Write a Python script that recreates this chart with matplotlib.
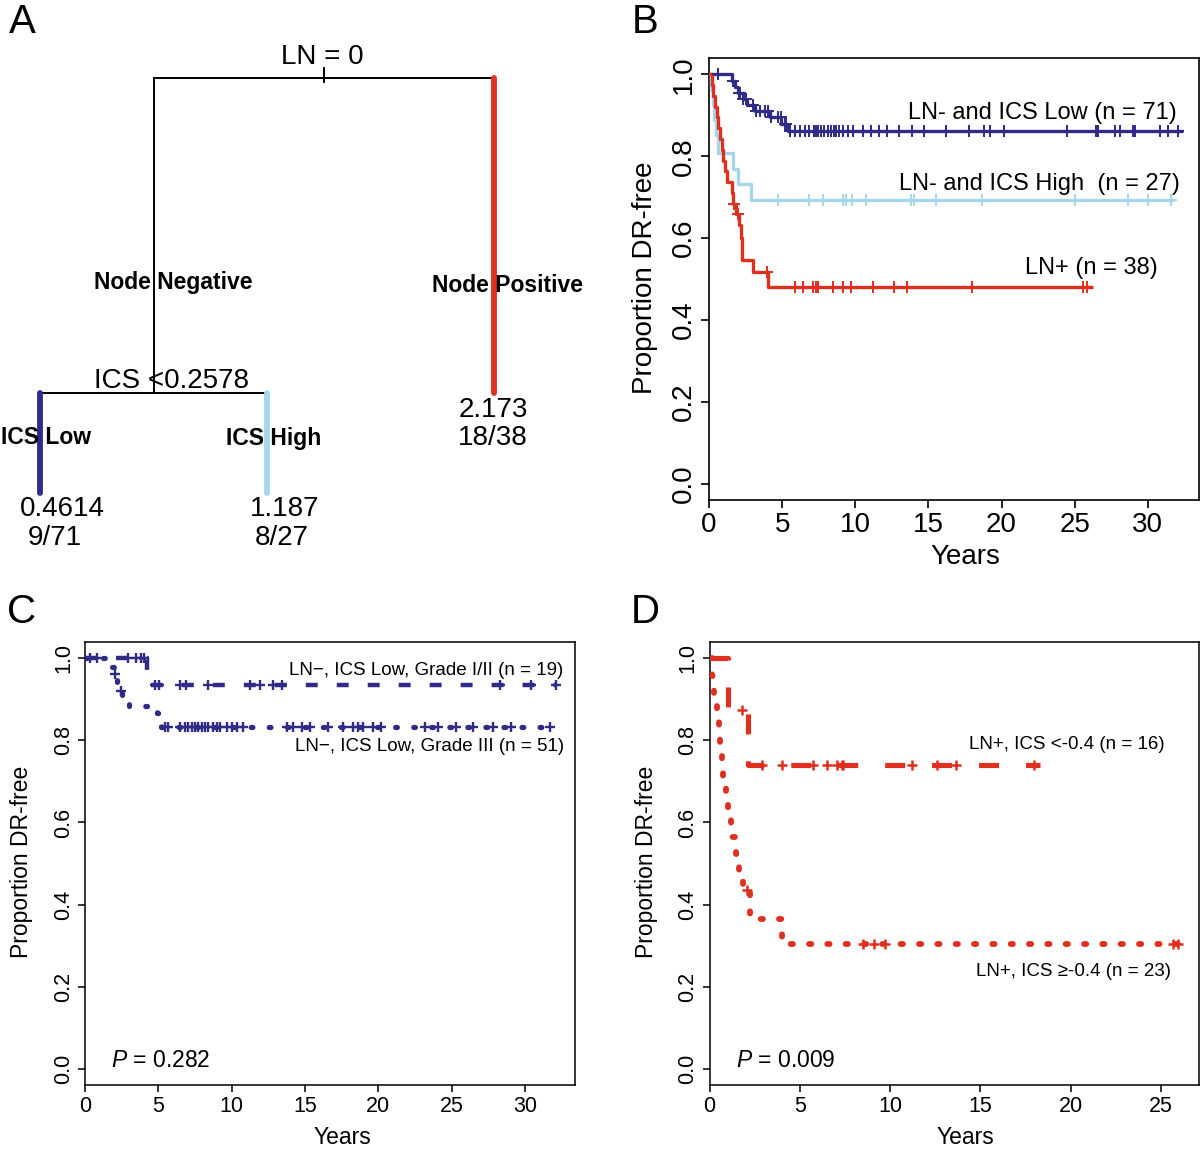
import numpy as np
import matplotlib
matplotlib.use("Agg")
import matplotlib.pyplot as plt

plt.rcParams['font.family'] = ['Liberation Sans', 'DejaVu Sans']
plt.rcParams['mathtext.fontset'] = 'custom'
plt.rcParams['mathtext.it'] = 'Liberation Sans:italic'
plt.rcParams['mathtext.rm'] = 'Liberation Sans'
plt.rcParams['lines.scale_dashes'] = False

# ---------------- data ----------------
# Panel A: recursive partitioning tree
tree_split_labels = ["LN = 0", "ICS <0.2578"]
tree_branch_labels = ["Node Negative", "Node Positive", "ICS Low", "ICS High"]
leaf_hazard = ["0.4614", "1.187", "2.173"]
leaf_events = ["9/71", "8/27", "18/38"]

# Panel B: KM curves (event times, survival after each event, censor times, end time)
b_low_t = [1.54, 1.77, 2.0, 2.3, 2.6, 3.15, 4.15, 4.95, 5.4]
b_low_s = [0.985, 0.970, 0.955, 0.940, 0.925, 0.911, 0.897, 0.879, 0.861]
b_low_cens = [0.64, 1.66, 2.05, 2.11, 2.34, 2.56, 3.02, 3.24, 3.47, 3.81, 4.04, 4.27, 4.72,
              4.94, 5.17, 5.28, 5.51, 5.85, 6.19, 6.53, 6.87, 7.21, 7.33, 7.44, 7.67, 7.89,
              8.12, 8.35, 8.57, 8.69, 8.91, 9.14, 9.48, 9.82, 10.5, 11.07, 11.63, 12.2, 13.0,
              13.9, 14.7, 16.17, 17.76, 18.78, 19.23, 20.14, 24.45, 26.49, 26.6, 27.73,
              28.07, 28.98, 29.1, 30.8, 31.36, 32.04]
b_low_end = 32.4

b_high_t = [0.15, 0.25, 0.35, 0.45, 0.6, 1.66, 2.0, 2.9]
b_high_s = [0.963, 0.926, 0.889, 0.852, 0.807, 0.768, 0.731, 0.694]
b_high_cens = [4.72, 6.87, 7.78, 9.14, 9.37, 9.77, 10.73, 13.79, 14.01, 15.49, 18.66,
               25.01, 28.64, 30.0, 31.59]
b_high_end = 31.8

b_pos_t = [0.18, 0.29, 0.41, 0.52, 0.64, 0.75, 0.86, 0.98, 1.09, 1.25, 1.54, 1.66, 1.88,
           2.06, 2.18, 2.28, 3.02, 4.04]
b_pos_s = [0.974, 0.947, 0.921, 0.895, 0.868, 0.842, 0.816, 0.789, 0.763, 0.737, 0.711,
           0.684, 0.658, 0.632, 0.600, 0.546, 0.518, 0.481]
b_pos_cens = [1.72, 1.95, 3.95, 5.85, 6.42, 7.1, 7.33, 7.44, 8.46, 9.14, 9.71, 11.18,
              12.66, 13.56, 17.98, 25.58, 25.81]
b_pos_end = 26.26

# Panel C
c_g12_t = [4.2]
c_g12_s = [0.936]
c_g12_cens = [0.34, 2.95, 3.5, 3.8, 4.0, 4.77, 5.04, 6.47, 6.88, 8.40, 11.24, 11.92,
              12.83, 13.4, 28.32, 30.43, 32.13]
c_g12_end = 32.13

c_g3_t = [1.7, 1.95, 2.15, 2.35, 2.55, 3.0, 4.9, 5.15]
c_g3_s = [0.980, 0.961, 0.941, 0.921, 0.901, 0.885, 0.866, 0.833]
c_g3_cens = [0.8, 2.04, 2.45, 5.45, 5.68, 6.47, 6.81, 7.04, 7.27, 7.49, 7.72, 7.95, 8.17,
             8.4, 8.74, 8.97, 9.2, 9.65, 9.99, 10.33, 10.79, 13.74, 14.19, 14.76, 15.33,
             16.58, 17.6, 18.28, 18.62, 18.96, 19.64, 20.21, 23.16, 24.07, 25.32, 26.45,
             27.82, 29.07, 31.68]
c_g3_end = 31.68

# Panel D
d_lo_t = [1.05, 2.15]
d_lo_s = [0.875, 0.741]
d_lo_cens = [1.78, 2.89, 4.0, 5.75, 6.49, 7.04, 7.32, 7.41, 11.19, 12.62, 13.65, 17.98]
d_lo_end = 18.3

d_hi_t = [0.12, 0.25, 0.4, 0.53, 0.6, 0.68, 0.77, 0.9, 1.05, 1.2, 1.45, 1.62, 1.85,
          2.25, 4.0]
d_hi_s = [0.957, 0.913, 0.870, 0.826, 0.783, 0.739, 0.696, 0.652, 0.609, 0.565, 0.522,
          0.478, 0.435, 0.365, 0.304]
d_hi_cens = [2.05, 8.52, 9.13, 9.7, 25.68, 25.96]
d_hi_end = 26.24

y_ticks = [0.0, 0.2, 0.4, 0.6, 0.8, 1.0]
b_x_ticks = [0, 5, 10, 15, 20, 25, 30]
c_x_ticks = [0, 5, 10, 15, 20, 25, 30]
d_x_ticks = [0, 5, 10, 15, 20, 25]

# ---------------- style ----------------
NAVY = '#2f2b87'
LIGHT = '#a6d6ec'
RED = '#de2f1f'

W, H = 1200, 1151
fig = plt.figure(figsize=(W / 100, H / 100), dpi=100)


def fx(px):
    return px / W


def fy(py):
    return 1 - py / H


def km(ax, t, s, cens, end, color, lw, ms, mew, ls='-', capstyle='butt'):
    xs = np.concatenate([[0.0], np.asarray(t, float), [end]])
    ys = np.concatenate([[1.0], np.asarray(s, float), [s[-1]]])
    ax.plot(xs, ys, drawstyle='steps-post', color=color, lw=lw, linestyle=ls,
            solid_capstyle='butt', dash_capstyle=capstyle, zorder=3)
    ct = np.asarray(cens, float)
    idx = np.searchsorted(np.asarray(t, float), ct, side='right')
    cs = np.concatenate([[1.0], np.asarray(s, float)])[idx]
    ax.plot(ct, cs, linestyle='none', marker='+', ms=ms, mew=mew, color=color, zorder=4)


def style_axes(ax, xticks, xlim, tick_fs, tick_len, lw):
    ax.set_xlim(*xlim)
    ax.set_ylim(-0.04, 1.04)
    ax.set_xticks(xticks)
    ax.set_yticks(y_ticks)
    ax.set_yticklabels([f"{v:.1f}" for v in y_ticks], rotation=90, va='center')
    ax.tick_params(direction='out', length=tick_len, width=lw, labelsize=tick_fs, pad=3)
    for sp in ax.spines.values():
        sp.set_linewidth(lw)


# ---------------- Panel A: tree ----------------
axA = fig.add_axes([0, fy(580), fx(600), 580 / H])
axA.set_xlim(0, 600)
axA.set_ylim(580, 0)
axA.axis('off')
# layout (pixel positions of tree nodes)
root = dict(x=324, y=78)
node_l = dict(x=154, y=393)
leaf_x = [40, 267, 494]
leaf_bottom = [493, 493, 393]
thin = 1.4
thick = 4.2
axA.plot([node_l['x'], leaf_x[2]], [root['y'], root['y']], color='black', lw=thin, solid_capstyle='butt')
axA.plot([root['x'], root['x']], [root['y'] - 10, root['y'] + 4], color='black', lw=thin)
axA.plot([node_l['x'], node_l['x']], [root['y'], node_l['y']], color='black', lw=thin)
axA.plot([leaf_x[0], leaf_x[1]], [node_l['y'], node_l['y']], color='black', lw=thin, solid_capstyle='butt')
axA.plot([leaf_x[2], leaf_x[2]], [root['y'], leaf_bottom[2]], color=RED, lw=thick, solid_capstyle='round')
axA.plot([leaf_x[0], leaf_x[0]], [node_l['y'], leaf_bottom[0]], color=NAVY, lw=thick, solid_capstyle='round')
axA.plot([leaf_x[1], leaf_x[1]], [node_l['y'], leaf_bottom[1]], color=LIGHT, lw=thick, solid_capstyle='round')

axA.text(322, 57, tree_split_labels[0], fontsize=20, ha='center', va='center')
axA.text(171, 381, tree_split_labels[1], fontsize=20, ha='center', va='center')
axA.text(173, 283, tree_branch_labels[0], fontsize=16.5, fontweight='bold', ha='center', va='center')
axA.text(508, 286, tree_branch_labels[1], fontsize=16.5, fontweight='bold', ha='center', va='center')
axA.text(46, 438, tree_branch_labels[2], fontsize=16.5, fontweight='bold', ha='center', va='center')
axA.text(274, 438, tree_branch_labels[3], fontsize=16.5, fontweight='bold', ha='center', va='center')
leaf_txt_pos = [(62, 509, 55, 538), (285, 509, 282, 538), (493, 410, 493, 438)]
for (x1, y1, x2, y2), hz, ev in zip(leaf_txt_pos, leaf_hazard, leaf_events):
    axA.text(x1, y1, hz, fontsize=20, ha='center', va='center')
    axA.text(x2, y2, ev, fontsize=20, ha='center', va='center')

# ---------------- Panel B ----------------
axB = fig.add_axes([fx(709), fy(500), 490 / W, 442 / H])
km(axB, b_low_t, b_low_s, b_low_cens, b_low_end, NAVY, 2.4, 8.5, 1.4)
km(axB, b_high_t, b_high_s, b_high_cens, b_high_end, LIGHT, 2.4, 8.5, 1.4)
km(axB, b_pos_t, b_pos_s, b_pos_cens, b_pos_end, RED, 2.4, 8.5, 1.4)
style_axes(axB, b_x_ticks, (0, 33.5), 20, 6, 1.2)
axB.text(31.97, 0.905, "LN- and ICS Low (n = 71)", fontsize=17, ha='right', va='center')
axB.text(32.18, 0.732, "LN- and ICS High  (n = 27)", fontsize=17, ha='right', va='center')
axB.text(30.68, 0.527, "LN+ (n = 38)", fontsize=17, ha='right', va='center')
axB.set_xlabel("Years", fontsize=20)
axB.set_ylabel("Proportion DR-free", fontsize=20)
axB.xaxis.set_label_coords(fx(965), fy(557), transform=fig.transFigure)
axB.xaxis.label.set_va('center')
axB.yaxis.set_label_coords(fx(645), fy(278), transform=fig.transFigure)
axB.yaxis.label.set_va('center')

# ---------------- Panel C ----------------
axC = fig.add_axes([fx(85), fy(1085), 490 / W, 443 / H])
km(axC, c_g12_t, c_g12_s, c_g12_cens, c_g12_end, NAVY, 3.2, 7.5, 1.7, ls=(0, (8.6, 13.7)))
km(axC, c_g3_t, c_g3_s, c_g3_cens, c_g3_end, NAVY, 3.8, 7.5, 1.7, ls=(0, (1.2, 11.8)), capstyle='round')
style_axes(axC, c_x_ticks, (0, 33.4), 15.5, 5, 1.1)
axC.text(32.63, 0.971, "LN\u2212, ICS Low, Grade I/II (n = 19)", fontsize=13.5, ha='right', va='center')
axC.text(32.63, 0.785, "LN\u2212, ICS Low, Grade III (n = 51)", fontsize=13.5, ha='right', va='center')
axC.text(1.75, 0.02, r"$P$ = 0.282", fontsize=16.5, ha='left', va='center')
axC.set_xlabel("Years", fontsize=16.5)
axC.set_ylabel("Proportion DR-free", fontsize=16.5)
axC.xaxis.set_label_coords(fx(342), fy(1137), transform=fig.transFigure)
axC.xaxis.label.set_va('center')
axC.yaxis.set_label_coords(fx(22), fy(862), transform=fig.transFigure)
axC.yaxis.label.set_va('center')

# ---------------- Panel D ----------------
axD = fig.add_axes([fx(709.5), fy(1085), 489.5 / W, 443 / H])
km(axD, d_lo_t, d_lo_s, d_lo_cens, d_lo_end, RED, 3.7, 7.5, 1.8, ls=(0, (14.4, 19.4)))
km(axD, d_hi_t, d_hi_s, d_hi_cens, d_hi_end, RED, 4.2, 7.5, 1.8, ls=(0, (1.6, 11.6)), capstyle='round')
style_axes(axD, d_x_ticks, (0, 27.1), 15.5, 5, 1.1)
axD.text(25.22, 0.79, "LN+, ICS <-0.4 (n = 16)", fontsize=13.5, ha='right', va='center')
axD.text(25.55, 0.237, "LN+, ICS \u2265-0.4 (n = 23)", fontsize=13.5, ha='right', va='center')
axD.text(1.45, 0.02, r"$P$ = 0.009", fontsize=16.5, ha='left', va='center')
axD.set_xlabel("Years", fontsize=16.5)
axD.set_ylabel("Proportion DR-free", fontsize=16.5)
axD.xaxis.set_label_coords(fx(965), fy(1137), transform=fig.transFigure)
axD.xaxis.label.set_va('center')
axD.yaxis.set_label_coords(fx(646), fy(862), transform=fig.transFigure)
axD.yaxis.label.set_va('center')

# panel letters
for lab, (px, py) in zip("ABCD", [(22, 22), (645, 22), (22, 612), (645, 612)]):
    fig.text(fx(px), fy(py), lab, fontsize=29, ha='center', va='center')

fig.savefig("out.png", dpi=100)
